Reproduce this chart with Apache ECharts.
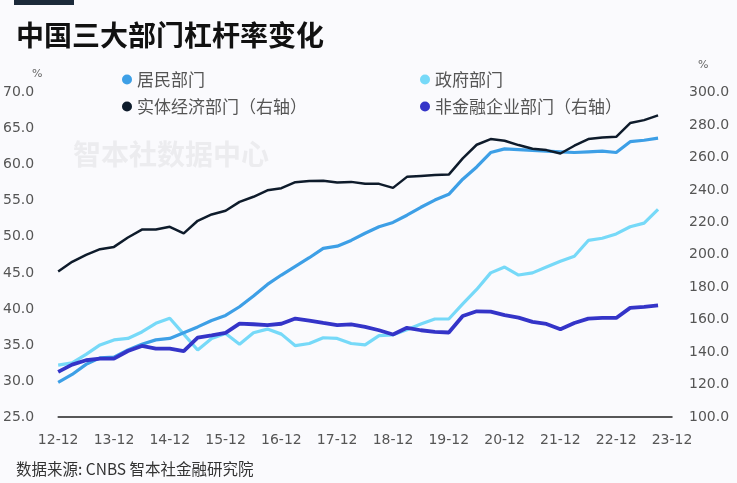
<!DOCTYPE html>
<html>
<head>
<meta charset="utf-8">
<script src="https://cdn.jsdelivr.net/npm/echarts@6/dist/echarts.min.js"></script>
<style>
html,body{margin:0;padding:0;background:#fafafd;}
#c{width:737px;height:483px;}
</style>
</head>
<body>
<div id="c"></div>
<script>
const categories = ["12-12","13-03","13-06","13-09","13-12","14-03","14-06","14-09","14-12","15-03","15-06","15-09","15-12","16-03","16-06","16-09","16-12","17-03","17-06","17-09","17-12","18-03","18-06","18-09","18-12","19-03","19-06","19-09","19-12","20-03","20-06","20-09","20-12","21-03","21-06","21-09","21-12","22-03","22-06","22-09","22-12","23-03","23-06","23-09","23-12"];
const seriesNames = ["居民部门","政府部门","实体经济部门（右轴）","非金融企业部门（右轴）"];
const household = [29.8,30.9,32.3,33.2,33.3,34.3,35.1,35.7,35.9,36.7,37.5,38.4,39.1,40.3,41.8,43.4,44.7,45.9,47.1,48.4,48.7,49.5,50.5,51.4,52.0,53.0,54.1,55.1,55.9,58.0,59.7,61.7,62.2,62.1,62.0,61.9,61.8,61.7,61.8,61.9,61.7,63.2,63.4,63.7];
const government = [32.2,32.5,33.7,35.0,35.7,35.9,36.8,38.0,38.7,36.5,34.3,35.9,36.6,35.1,36.7,37.2,36.5,34.9,35.2,36.0,35.9,35.2,35.0,36.3,36.4,37.1,37.9,38.6,38.6,40.7,42.7,45.0,45.8,44.7,45.0,45.8,46.6,47.3,49.5,49.8,50.4,51.4,51.9,53.8];
const realEconomy = [189.7,195.7,200.0,203.5,204.9,210.7,215.6,215.6,217.3,213.2,221.0,224.9,227.2,232.7,235.8,239.8,241.1,244.8,245.5,245.7,244.6,245.0,243.8,243.8,241.3,248.1,248.7,249.3,249.5,259.5,267.9,271.4,270.4,267.7,265.4,264.6,262.5,267.3,271.4,272.4,272.8,281.3,283.1,286.0];
const nonFinancial = [127.8,132.3,135.0,136.0,136.0,140.7,143.8,142.2,142.2,140.6,149.0,150.4,151.9,157.6,157.2,156.7,157.5,160.7,159.5,158.0,156.7,157.1,155.6,153.5,150.9,155.0,153.5,152.5,152.1,162.3,165.2,165.0,162.8,161.3,158.7,157.4,154.1,158.0,160.7,161.1,161.1,167.3,167.9,168.9];
const titleText = "中国三大部门杠杆率变化";
const sourceText = "数据来源: CNBS 智本社金融研究院";
const watermarkText = "智本社数据中心";

const colors = ["#3d9fe6","#76d9f8","#0e1b2b","#3434c8"];
const chart = echarts.init(document.getElementById('c'), null, {renderer:'canvas'});
const labelFont = {fontFamily:'DejaVu Sans', fontSize:14, color:'#555'};
chart.setOption({
  backgroundColor:'#fafafd',
  animation:false,
  graphic:[
    {type:'rect', left:14, top:0, shape:{width:60,height:5}, style:{fill:'#1c2a3a'}},
    {type:'text', left:16, top:21, style:{text:titleText, font:'bold 28px "Noto Sans CJK SC"', fill:'#111'}},
    {type:'text', left:73, top:140, z:0, style:{text:watermarkText, font:'bold 28px "Noto Sans CJK SC"', fill:'#ececef'}},
    {type:'text', left:32, top:69, style:{text:'%', font:'11px "DejaVu Sans"', fill:'#666'}},
    {type:'text', left:698, top:60, style:{text:'%', font:'11px "DejaVu Sans"', fill:'#666'}},
    {type:'text', left:16, top:461, style:{text:sourceText, font:'15.5px "Noto Sans CJK SC"', fill:'#333'}}
  ],
  legend:[
    {data:[seriesNames[0],seriesNames[2]], orient:'vertical', left:117, top:66, itemWidth:10, itemHeight:10, itemGap:10, icon:'circle',
     textStyle:{fontFamily:'Noto Sans CJK SC', fontSize:17, color:'#555', lineHeight:17}},
    {data:[seriesNames[1],seriesNames[3]], orient:'vertical', left:415, top:66, itemWidth:10, itemHeight:10, itemGap:10, icon:'circle',
     textStyle:{fontFamily:'Noto Sans CJK SC', fontSize:17, color:'#555', lineHeight:17}}
  ],
  grid:{left:58, right:65, top:92.7, bottom:66, containLabel:false},
  xAxis:{type:'category', data:categories, boundaryGap:false,
    axisLine:{lineStyle:{color:'#222', width:1.5}}, axisTick:{show:false},
    axisLabel:Object.assign({interval:3, margin:16}, labelFont)},
  yAxis:[
    {type:'value', min:25, max:70, interval:5, splitLine:{show:false}, axisLine:{show:false}, axisTick:{show:false},
     axisLabel:Object.assign({margin:24, formatter:v=>v.toFixed(1)}, labelFont)},
    {type:'value', min:100, max:300, interval:20, splitLine:{show:false}, axisLine:{show:false}, axisTick:{show:false},
     axisLabel:Object.assign({margin:17, formatter:v=>v.toFixed(1)}, labelFont)}
  ],
  series:[
    {name:seriesNames[0], type:'line', data:household, yAxisIndex:0, symbol:'none', lineStyle:{width:3.2, color:colors[0]}, itemStyle:{color:colors[0]}, z:3},
    {name:seriesNames[1], type:'line', data:government, yAxisIndex:0, symbol:'none', lineStyle:{width:3.2, color:colors[1]}, itemStyle:{color:colors[1]}, z:2},
    {name:seriesNames[2], type:'line', data:realEconomy, yAxisIndex:1, symbol:'none', lineStyle:{width:2.5, color:colors[2]}, itemStyle:{color:colors[2]}, z:4},
    {name:seriesNames[3], type:'line', data:nonFinancial, yAxisIndex:1, symbol:'none', lineStyle:{width:3.8, color:colors[3]}, itemStyle:{color:colors[3]}, z:3}
  ]
});
</script>
</body>
</html>
